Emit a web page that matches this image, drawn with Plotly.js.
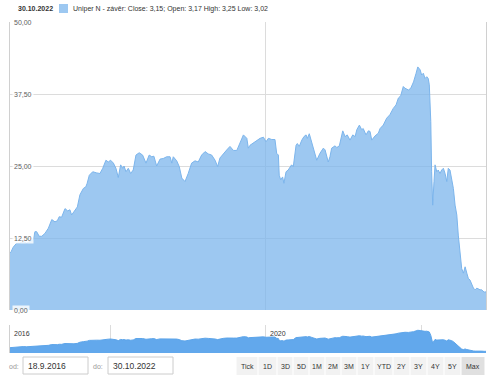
<!DOCTYPE html>
<html>
<head>
<meta charset="utf-8">
<script src="https://cdn.plot.ly/plotly-3.0.1.min.js"></script>
<style>
html,body{margin:0;padding:0;background:#fff;}
#chart{width:500px;height:385px;}
</style>
</head>
<body>
<div id="chart"></div>
<script>
// ---- data ----
const dates = [
"2016-09-18","2016-09-23","2016-10-03","2016-10-19","2016-11-03","2016-11-19","2016-12-05","2016-12-21",
"2017-01-05","2017-01-13","2017-01-21","2017-02-02","2017-02-14","2017-03-01","2017-03-17","2017-04-02","2017-04-17","2017-04-28","2017-05-07","2017-05-18","2017-06-03","2017-06-16","2017-06-26","2017-07-04","2017-07-15","2017-07-31","2017-08-12","2017-08-28","2017-09-09","2017-09-15","2017-09-25","2017-10-11","2017-10-30","2017-11-14","2017-11-27","2017-12-12","2017-12-23",
"2018-01-03","2018-01-16","2018-01-28","2018-02-08","2018-02-19","2018-03-01","2018-03-07","2018-03-16","2018-03-27","2018-04-07","2018-04-19","2018-05-02","2018-05-17","2018-06-02","2018-06-18","2018-07-03","2018-07-15","2018-07-25","2018-08-07","2018-08-23","2018-09-07","2018-09-23","2018-10-09","2018-10-17","2018-10-24","2018-11-09","2018-11-21","2018-12-03","2018-12-18",
"2019-01-02","2019-01-18","2019-02-03","2019-02-18","2019-03-06","2019-03-22","2019-04-06","2019-04-22","2019-05-08","2019-05-20","2019-05-31","2019-06-16","2019-07-02","2019-07-17","2019-08-02","2019-08-18","2019-09-05","2019-09-18","2019-10-04","2019-10-11","2019-10-19","2019-11-02","2019-11-20","2019-12-05","2019-12-21",
"2020-01-02","2020-01-13","2020-01-29","2020-02-13","2020-02-21","2020-02-29","2020-03-04","2020-03-11","2020-03-20","2020-03-26","2020-04-05","2020-04-15","2020-05-01","2020-05-09","2020-05-22","2020-05-28","2020-06-06","2020-06-18","2020-06-28","2020-07-08","2020-07-14","2020-07-23","2020-08-04","2020-08-11","2020-08-27","2020-09-11","2020-09-27","2020-10-05","2020-10-20","2020-10-28","2020-11-05","2020-11-21","2020-11-29","2020-12-11","2020-12-27",
"2021-01-07","2021-01-17","2021-01-30","2021-02-12","2021-02-23","2021-03-03","2021-03-15","2021-03-26","2021-04-02","2021-04-15","2021-04-26","2021-05-04","2021-05-12","2021-05-27","2021-06-12","2021-06-20","2021-07-05","2021-07-21","2021-08-05","2021-08-21","2021-09-03","2021-09-14","2021-09-25","2021-10-07","2021-10-15","2021-10-31","2021-11-11","2021-11-24","2021-12-06","2021-12-14","2021-12-25",
"2022-01-01","2022-01-09","2022-01-17","2022-01-25","2022-02-01","2022-02-06","2022-02-13","2022-02-17","2022-02-22","2022-02-28","2022-03-05","2022-03-13","2022-03-20","2022-03-28","2022-04-05","2022-04-13","2022-04-21","2022-04-29","2022-05-06","2022-05-14","2022-05-22","2022-05-30","2022-06-07","2022-06-15","2022-06-22","2022-06-30","2022-07-08","2022-07-16","2022-07-24","2022-08-01","2022-08-08","2022-08-16","2022-08-24","2022-09-01","2022-09-09","2022-09-17","2022-10-02","2022-10-10","2022-10-21","2022-10-30"
];
const closes = [
9.9,10.1,10.9,11.6,11.6,11.9,11.6,11.9,
12.2,13.6,13.6,12.8,12.8,13.3,14.2,15.7,15.3,15.5,16.2,16.1,17.6,17.2,17.4,16.5,17.1,17.9,20.0,21.1,21.4,22.0,23.4,24.0,23.8,23.7,24.6,26.0,25.7,
26.0,25.5,24.6,23.0,25.2,24.6,25.0,24.0,24.6,23.7,24.3,26.9,27.3,26.9,25.5,26.9,26.6,26.7,25.0,26.2,26.3,26.6,26.6,25.5,26.6,25.9,24.9,22.9,22.3,
23.7,25.5,25.9,25.7,26.9,27.5,27.1,26.9,26.0,24.9,26.4,27.2,27.8,28.4,27.7,27.7,29.2,30.4,29.8,28.1,28.6,29.0,29.5,29.8,30.0,
29.2,29.8,29.6,29.6,27.2,26.9,23.4,22.6,23.1,22.0,24.0,24.3,25.2,24.9,28.6,28.9,28.4,29.5,30.1,30.4,29.8,30.6,28.9,28.1,26.0,27.2,28.1,27.8,25.7,26.6,28.1,28.5,28.2,28.5,31.1,
30.1,30.4,29.5,30.4,30.1,31.3,32.1,31.3,31.5,30.4,31.1,31.0,29.5,30.2,30.7,31.5,32.1,33.3,33.9,35.0,35.6,36.8,37.2,38.8,38.5,38.2,38.5,39.6,41.1,42.2,41.7,
40.8,41.1,40.2,40.5,40.2,39.1,32.7,24.0,18.2,22.3,25.2,24.0,24.3,23.7,24.3,24.6,23.7,22.3,24.6,24.3,22.9,21.1,18.2,16.5,13.0,9.5,7.2,6.4,7.5,6.4,5.5,5.2,4.3,3.8,3.5,3.8,3.5,3.5,3.1,3.15
];
const rangeStart = "2016-09-18";
const rangeEnd = "2022-10-30";
const yTickVals = [0, 12.5, 25, 37.5, 50];
const yTickText = ["0,00", "12,50", "25,00", "37,50", "50,00"];
const mainGridDates = ["2020-01-01"];
const navGridDates = ["2018-01-01", "2020-01-01", "2022-01-01"];
const navLabelDates = ["2016-09-18", "2020-01-01"];
const navLabelText = ["2016", "2020"];
const headerDate = "30.10.2022";
const legendText = "Uniper N - závěr: Close: 3,15; Open: 3,17 High: 3,25 Low: 3,02";
const buttons = ["Tick","1D","3D","5D","1M","2M","3M","1Y","YTD","2Y","3Y","4Y","5Y","Max"];
const selectedButton = "Max";
const fromLabel = "od:", toLabel = "do:";
const fromValue = "18.9.2016", toValue = "30.10.2022";

// ---- layout helpers (pixel -> paper) ----
const L = 10, R = 486, T = 22, B = 353;
const W = R - L, H = B - T;
const px = x => (x - L) / W;
const py = y => (B - y) / H;

const FONT = "Liberation Sans, Arial, sans-serif";

const traces = [
  {
    x: dates, y: closes, type: "scatter", mode: "lines",
    line: {color: "#7cb5ec", width: 1},
    fill: "tozeroy", fillcolor: "rgba(124,181,236,0.75)",
    xaxis: "x", yaxis: "y", hoverinfo: "skip", showlegend: false
  },
  {
    x: dates, y: closes, type: "scatter", mode: "lines",
    line: {color: "#5da5ea", width: 1},
    fill: "tozeroy", fillcolor: "#62a8ec",
    xaxis: "x2", yaxis: "y2", hoverinfo: "skip", showlegend: false
  }
];

const shapes = [];
const annotations = [];

// y tick labels (inside, with background)
yTickVals.forEach((v, i) => {
  annotations.push({
    xref: "paper", yref: "y", x: px(12), y: v, xanchor: "left", yanchor: "middle",
    text: yTickText[i], showarrow: false, bgcolor: "rgba(255,255,255,0.8)", borderpad: 1,
    font: {family: FONT, size: 7, color: "#606060"}
  });
});

// navigator labels
navLabelDates.forEach((d, i) => {
  annotations.push({
    xref: "x2", yref: "paper", x: d, y: py(333), xanchor: "left", yanchor: "middle", xshift: 2,
    text: navLabelText[i], showarrow: false,
    font: {family: FONT, size: 7, color: "#333"}
  });
});

// header
annotations.push({
  xref: "paper", yref: "paper", x: px(16), y: py(9), xanchor: "left", yanchor: "middle",
  text: "<b>" + headerDate + "</b>", showarrow: false, font: {family: FONT, size: 7, color: "#333"}
});
shapes.push({type: "rect", xref: "paper", yref: "paper", x0: px(59), x1: px(68), y0: py(4), y1: py(13),
  fillcolor: "rgba(124,181,236,0.75)", line: {width: 0}});
annotations.push({
  xref: "paper", yref: "paper", x: px(71), y: py(9), xanchor: "left", yanchor: "middle",
  text: legendText, showarrow: false, font: {family: FONT, size: 7, color: "#333"}
});

// input boxes
annotations.push({xref: "paper", yref: "paper", x: px(7), y: py(366), xanchor: "left", yanchor: "middle",
  text: fromLabel, showarrow: false, font: {family: FONT, size: 7, color: "#999"}});
annotations.push({xref: "paper", yref: "paper", x: px(91), y: py(366), xanchor: "left", yanchor: "middle",
  text: toLabel, showarrow: false, font: {family: FONT, size: 7, color: "#999"}});
shapes.push({type: "rect", xref: "paper", yref: "paper", x0: px(23), x1: px(88), y0: py(357), y1: py(374),
  fillcolor: "#fff", line: {color: "#ccc", width: 1}});
shapes.push({type: "rect", xref: "paper", yref: "paper", x0: px(108), x1: px(173), y0: py(357), y1: py(374),
  fillcolor: "#fff", line: {color: "#ccc", width: 1}});
annotations.push({xref: "paper", yref: "paper", x: px(26), y: py(366), xanchor: "left", yanchor: "middle",
  text: fromValue, showarrow: false, font: {family: FONT, size: 8.5, color: "#333"}});
annotations.push({xref: "paper", yref: "paper", x: px(111), y: py(366), xanchor: "left", yanchor: "middle",
  text: toValue, showarrow: false, font: {family: FONT, size: 8.5, color: "#333"}});

// range buttons
const btnEdges = [236,258,277,293,309,325,341,357,374,393,410,427,444,461,485];
buttons.forEach((b, i) => {
  const x0 = btnEdges[i], x1 = btnEdges[i + 1];
  shapes.push({type: "rect", xref: "paper", yref: "paper", x0: px(x0 + 0.5), x1: px(x1 - 0.5), y0: py(357), y1: py(375),
    fillcolor: b === selectedButton ? "#e0e0e0" : "#f2f2f2", line: {width: 0}});
  annotations.push({xref: "paper", yref: "paper", x: px((x0 + x1) / 2), y: py(366), xanchor: "center", yanchor: "middle",
    text: b, showarrow: false, font: {family: FONT, size: 7, color: "#333"}});
});

const layout = {
  width: 500, height: 385,
  margin: {l: L, r: 500 - R, t: T, b: 385 - B, pad: 0},
  paper_bgcolor: "#fff", plot_bgcolor: "#fff",
  showlegend: false, hovermode: false,
  xaxis: {
    type: "date", range: [rangeStart, rangeEnd], domain: [0, 1], anchor: "y",
    tickvals: mainGridDates, showticklabels: false, showgrid: true, gridcolor: "#dcdcdc", gridwidth: 1,
    zeroline: false, showline: false, ticks: ""
  },
  yaxis: {
    range: [0, 50], domain: [py(310), 1], anchor: "x",
    tickvals: yTickVals, showticklabels: false, showgrid: true, gridcolor: "#dcdcdc", gridwidth: 1,
    zeroline: false, showline: true, mirror: true, linecolor: "#d0d0d0", linewidth: 1, ticks: ""
  },
  xaxis2: {
    type: "date", range: [rangeStart, rangeEnd], domain: [0, 1], anchor: "y2",
    tickvals: navGridDates, showticklabels: false, showgrid: true, gridcolor: "#dcdcdc", gridwidth: 1,
    zeroline: false, showline: false, ticks: ""
  },
  yaxis2: {
    range: [0, 52], domain: [0, py(325)], anchor: "x2",
    showticklabels: false, showgrid: false, zeroline: false,
    showline: true, linecolor: "#d0d0d0", linewidth: 1, ticks: ""
  },
  shapes: shapes,
  annotations: annotations
};

Plotly.newPlot("chart", traces, layout, {displayModeBar: false, staticPlot: true});
</script>
</body>
</html>
